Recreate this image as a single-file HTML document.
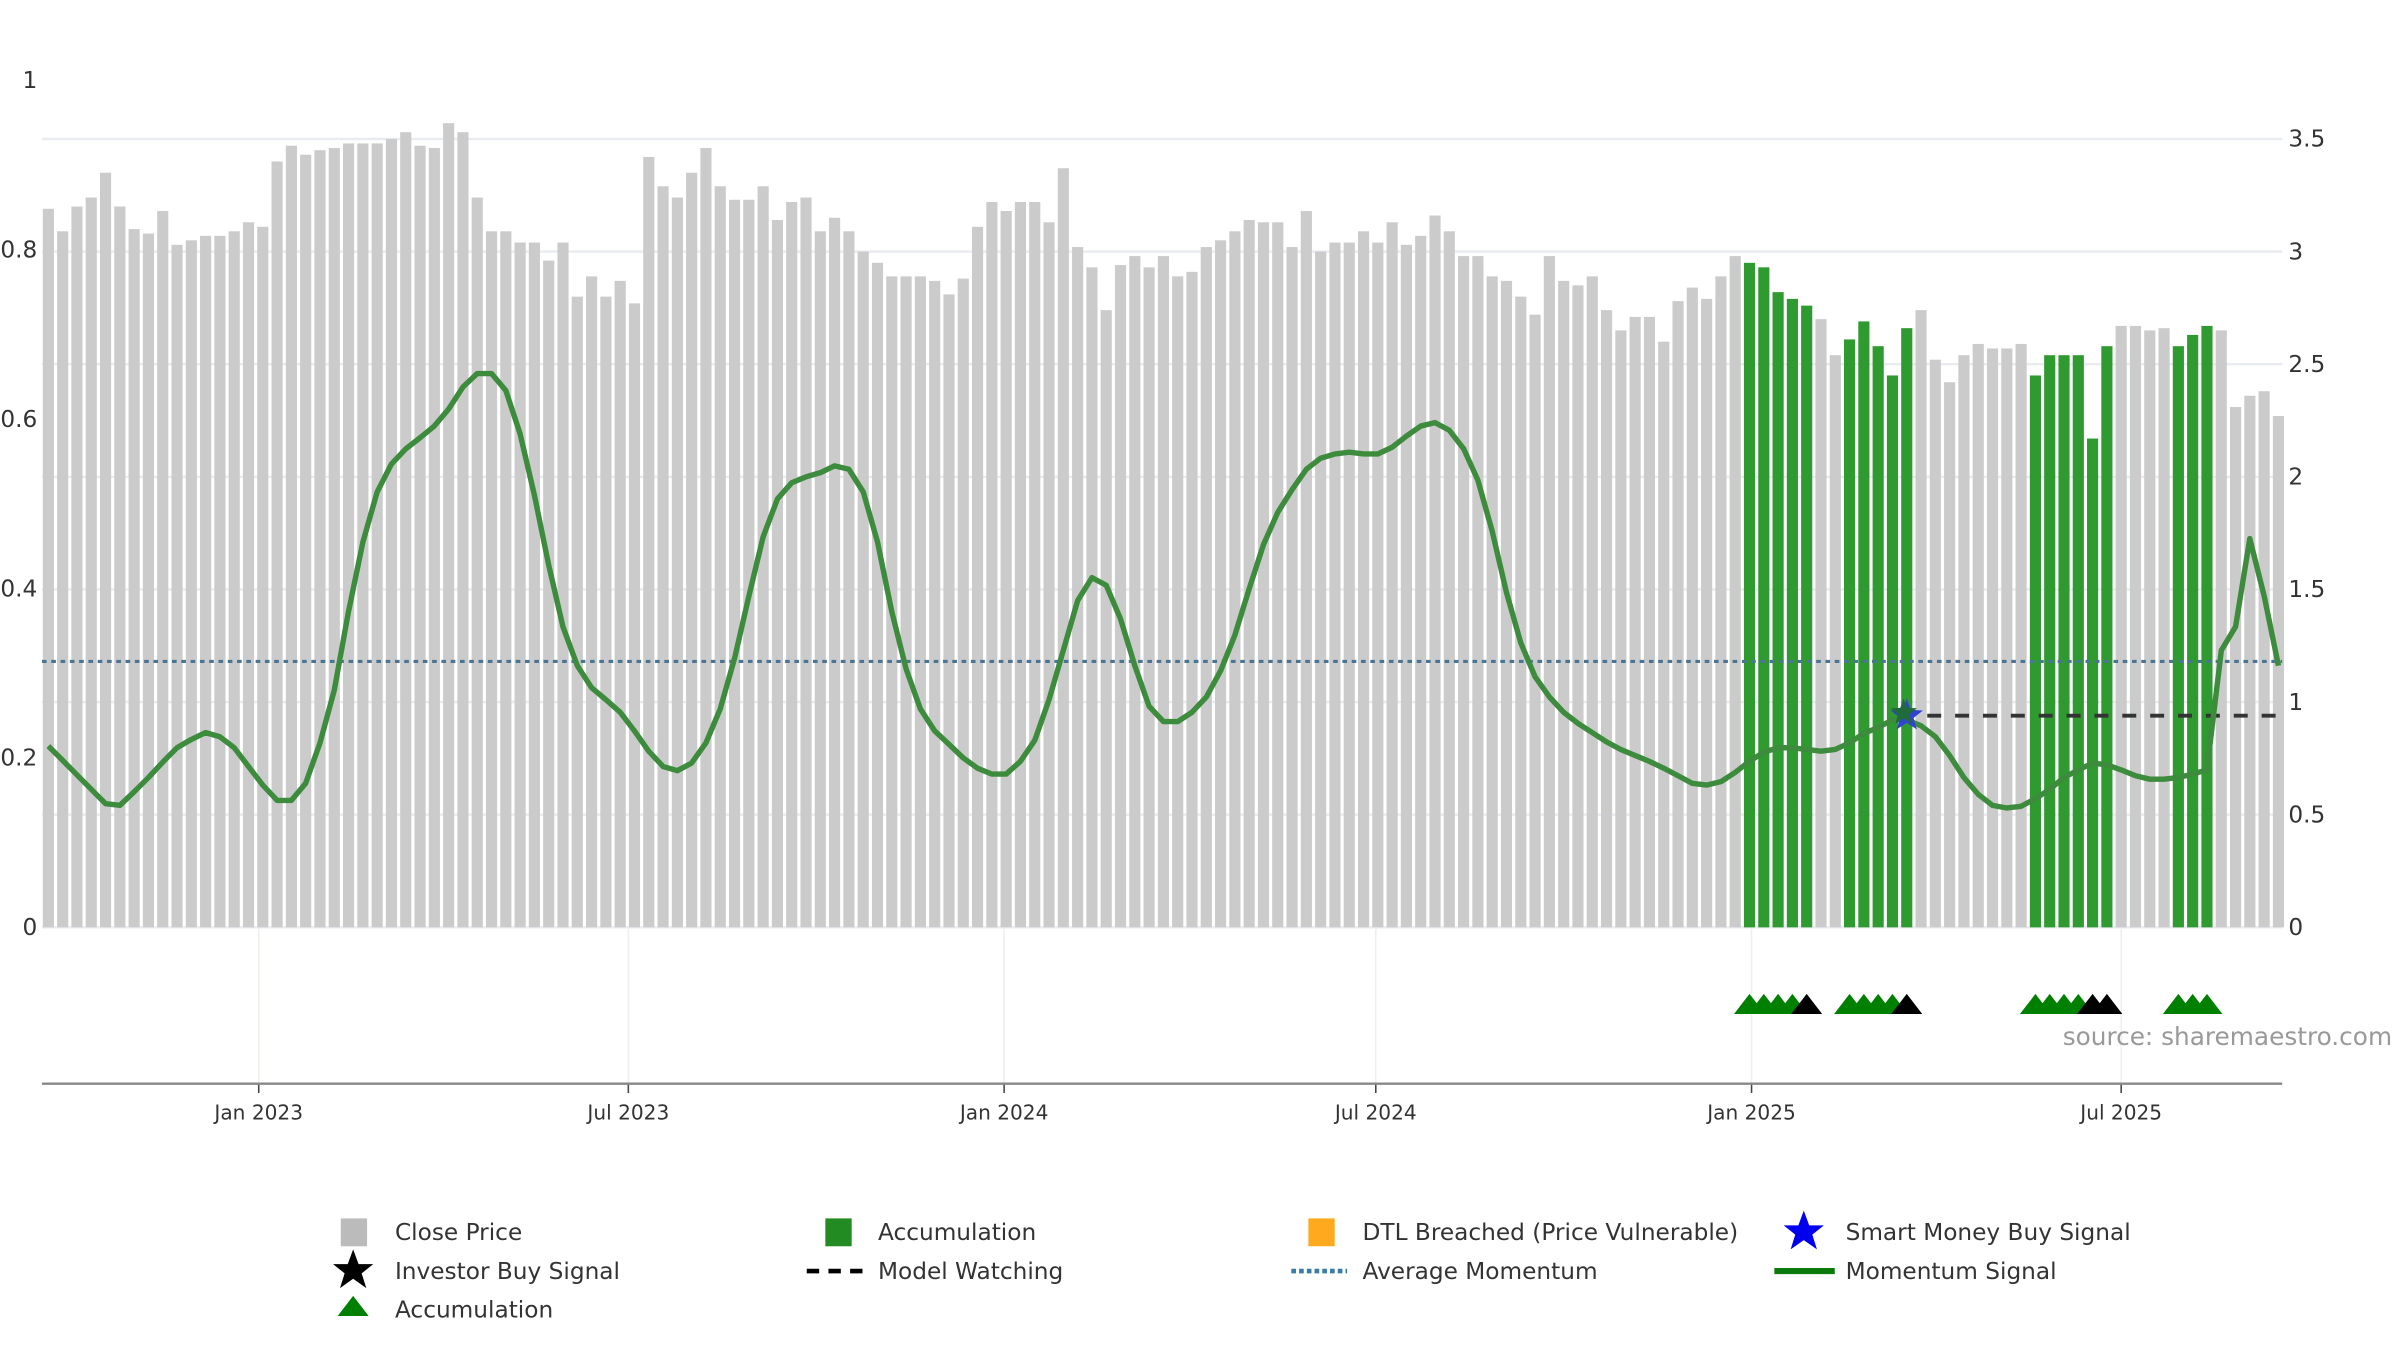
<!DOCTYPE html>
<html><head><meta charset="utf-8"><style>
html,body{margin:0;padding:0;background:#fff;}
svg{display:block;font-family:"DejaVu Sans","Liberation Sans",sans-serif;}
</style></head><body>
<svg id="chart" width="2400" height="1350" viewBox="0 0 1550 872" xmlns="http://www.w3.org/2000/svg">
<g id="grid"></g>
<g id="bars"></g>
<g id="lines"></g>
<g id="markers"></g>
<g id="axes"></g>
<text x="1545" y="675" text-anchor="end" font-size="16" fill="#999">source: sharemaestro.com</text>
<g id="legend" font-size="15" fill="#333">
  <rect x="220" y="787" width="17" height="18" fill="#bbb"/>
  <text x="255" y="801">Close Price</text>
  <rect x="533" y="787" width="17" height="18" fill="#228B22"/>
  <text x="567" y="801">Accumulation</text>
  <rect x="845" y="787" width="17" height="18" fill="#FFA91F"/>
  <text x="880" y="801">DTL Breached (Price Vulnerable)</text>
  <polygon points="1165,782 1168.5,791.5 1178,791.5 1170.5,797.5 1173.5,807 1165,801 1156.5,807 1159.5,797.5 1152,791.5 1161.5,791.5" fill="#0000ee"/>
  <text x="1192" y="801">Smart Money Buy Signal</text>
  <polygon points="228,807 231.5,816.5 241,816.5 233.5,822.5 236.5,832 228,826 219.5,832 222.5,822.5 215,816.5 224.5,816.5" fill="#000"/>
  <text x="255" y="826">Investor Buy Signal</text>
  <line x1="521" y1="821" x2="557" y2="821" stroke="#000" stroke-width="3" stroke-dasharray="8,6"/>
  <text x="567" y="826">Model Watching</text>
  <line x1="834" y1="821" x2="870" y2="821" stroke="#3a7ca8" stroke-width="3" stroke-dasharray="3,2"/>
  <text x="880" y="826">Average Momentum</text>
  <line x1="1146" y1="821" x2="1185" y2="821" stroke="#0a7a0a" stroke-width="4"/>
  <text x="1192" y="826">Momentum Signal</text>
  <polygon points="228,837 238,850 218,850" fill="#008000"/>
  <text x="255" y="851">Accumulation</text>
</g>
</svg>
<script>
const prices = [3.19,3.09,3.20,3.24,3.35,3.20,3.10,3.08,3.18,3.03,3.05,3.07,3.07,3.09,3.13,3.11,3.40,3.47,3.43,3.45,3.46,3.48,3.48,3.48,3.50,3.53,3.47,3.46,3.57,3.53,3.24,3.09,3.09,3.04,3.04,2.96,3.04,2.80,2.89,2.80,2.87,2.77,3.42,3.29,3.24,3.35,3.46,3.29,3.23,3.23,3.29,3.14,3.22,3.24,3.09,3.15,3.09,3.00,2.95,2.89,2.89,2.89,2.87,2.81,2.88,3.11,3.22,3.18,3.22,3.22,3.13,3.37,3.02,2.93,2.74,2.94,2.98,2.93,2.98,2.89,2.91,3.02,3.05,3.09,3.14,3.13,3.13,3.02,3.18,3.00,3.04,3.04,3.09,3.04,3.13,3.03,3.07,3.16,3.09,2.98,2.98,2.89,2.87,2.80,2.72,2.98,2.87,2.85,2.89,2.74,2.65,2.71,2.71,2.60,2.78,2.84,2.79,2.89,2.98,2.95,2.93,2.82,2.79,2.76,2.70,2.54,2.61,2.69,2.58,2.45,2.66,2.74,2.52,2.42,2.54,2.59,2.57,2.57,2.59,2.45,2.54,2.54,2.54,2.17,2.58,2.67,2.67,2.65,2.66,2.58,2.63,2.67,2.65,2.31,2.36,2.38,2.27];
const momentum = [0.214,0.197,0.18,0.163,0.146,0.144,0.16,0.177,0.195,0.212,0.222,0.23,0.225,0.212,0.19,0.168,0.15,0.15,0.17,0.218,0.28,0.373,0.455,0.514,0.547,0.565,0.578,0.592,0.612,0.638,0.654,0.654,0.634,0.583,0.51,0.428,0.355,0.309,0.283,0.269,0.254,0.232,0.208,0.19,0.185,0.194,0.218,0.258,0.318,0.391,0.461,0.506,0.525,0.532,0.537,0.545,0.541,0.514,0.455,0.373,0.305,0.258,0.232,0.216,0.2,0.188,0.181,0.181,0.196,0.221,0.269,0.327,0.386,0.413,0.404,0.364,0.309,0.261,0.243,0.243,0.254,0.272,0.303,0.345,0.4,0.452,0.49,0.517,0.541,0.554,0.559,0.561,0.559,0.559,0.567,0.58,0.592,0.596,0.587,0.565,0.528,0.468,0.395,0.336,0.296,0.272,0.254,0.241,0.23,0.219,0.21,0.203,0.196,0.188,0.179,0.17,0.168,0.172,0.183,0.196,0.207,0.212,0.212,0.21,0.208,0.21,0.218,0.229,0.236,0.245,0.245,0.238,0.225,0.203,0.177,0.157,0.144,0.141,0.143,0.152,0.163,0.177,0.186,0.194,0.192,0.186,0.179,0.175,0.175,0.177,0.181,0.186,0.327,0.355,0.459,0.391,0.309];
const accumulationBars = [119,120,121,122,123,126,127,128,129,130,139,140,141,142,143,144,149,150,151];
const accumTriangles = [119,120,121,122,126,127,128,129,139,140,141,142,149,150,151];
const investorTriangles = [123,130,143,144];
const smartMoneyIndex = [130];
const avgMomentum = [0.314];
const modelWatching = [0.25];
const modelWatchStart = [131];
const leftTicks = [0,0.2,0.4,0.6,0.8,1];
const leftTickLabels = ["0","0.2","0.4","0.6","0.8","1"];
const rightTicks = [0,0.5,1,1.5,2,2.5,3,3.5];
const rightTickLabels = ["0","0.5","1","1.5","2","2.5","3","3.5"];
const xTickDates = ["2023-01-01","2023-07-01","2024-01-01","2024-07-01","2025-01-01","2025-07-01"];
const xTickLabels = ["Jan 2023","Jul 2023","Jan 2024","Jul 2024","Jan 2025","Jul 2025"];
const startDate = ["2022-09-20"];

const NS="http://www.w3.org/2000/svg";
const DAY=86400000;
const ref=Date.UTC(2023,0,1);
const start=Date.parse(startDate[0]);
function xDate(t){return 167+(t-ref)/DAY*1.3191;}
function xBar(i){return xDate(start+i*7*DAY);}
function yL(v){return 599-v*547;}
function yR(v){return 599-v*145.5;}
function mk(tag,attrs,parent){const e=document.createElementNS(NS,tag);for(const k in attrs)e.setAttribute(k,attrs[k]);parent.appendChild(e);return e;}
const grid=document.getElementById('grid'),bars=document.getElementById('bars'),lines=document.getElementById('lines'),markers=document.getElementById('markers'),axes=document.getElementById('axes');

rightTicks.forEach((v,k)=>{
  const g=mk('line',{x1:27,x2:1474,y1:yR(v),y2:yR(v),stroke:'#e8ebf0','stroke-width':1.5},grid);
  
  
  const t=mk('text',{x:1478,y:yR(v)+5,'font-size':15,fill:'#333'},axes);t.textContent=rightTickLabels[k];
  
  
});
leftTicks.forEach((v,k)=>{
  const t=mk('text',{x:24,y:yL(v)+5,'font-size':15,fill:'#333','text-anchor':'end'},axes);t.textContent=leftTickLabels[k];
  
  
});
xTickDates.forEach((d,k)=>{
  const x=xDate(Date.parse(d));
  const g=mk('line',{x1:x,x2:x,y1:600,y2:700,stroke:'#eceff3','stroke-width':1},grid);
  
  
  const tk=mk('line',{x1:x,x2:x,y1:700,y2:706,stroke:'#444','stroke-width':1},axes);
  
  
  const t=mk('text',{x:x,y:723,'font-size':13,fill:'#333','text-anchor':'middle'},axes);t.textContent=xTickLabels[k];
  
  
});
const axl=mk('line',{x1:27,x2:1474,y1:700,y2:700,stroke:'#888','stroke-width':1.5},axes);



prices.forEach((v,i)=>{
  const acc=accumulationBars.includes(i);
  const x=xBar(i);
  const r=mk('rect',{x:x-3.6,y:yR(v),width:7.2,height:599-yR(v),fill:acc?'#2f9a2f':'#cbcbcb'},bars);
  
  
});

const avg=mk('line',{x1:27,x2:1474,y1:yL(avgMomentum[0]),y2:yL(avgMomentum[0]),stroke:'#4a7594','stroke-width':2,'stroke-dasharray':'3,3'},lines);


const mw=mk('line',{x1:xBar(modelWatchStart[0])+4,x2:1472,y1:yL(modelWatching[0]),y2:yL(modelWatching[0]),stroke:'#333','stroke-width':2.5,'stroke-dasharray':'9,9'},lines);


const pts=momentum.map((v,i)=>xBar(i).toFixed(1)+','+yL(v).toFixed(1)).join(' ');
const ml=mk('polyline',{points:pts,fill:'none',stroke:'#3d8b3d','stroke-width':3.5,'stroke-linejoin':'round'},lines);



function star(cx,cy,r,fill,parent){
  const p=[];for(let k=0;k<10;k++){const a=-Math.PI/2+k*Math.PI/5;const rr=k%2?r*0.42:r;p.push((cx+rr*Math.cos(a)).toFixed(1)+','+(cy+rr*Math.sin(a)).toFixed(1));}
  return mk('polygon',{points:p.join(' '),fill:fill},parent);
}
smartMoneyIndex.forEach(i=>{
  const s=star(xBar(i),yL(modelWatching[0]),11,'#3344cc',markers);
  
  
  const s2=star(xBar(i)-2,yL(modelWatching[0])-2,9,'#1f6b3a',markers);
  
  
});
function tri(i,fill,name){
  const x=xBar(i);
  const t=mk('polygon',{points:`${x},642 ${x+10},655 ${x-10},655`,fill:fill},markers);
  
  
}
accumTriangles.forEach(i=>tri(i,'#008000','accumulation-triangle'));
investorTriangles.forEach(i=>tri(i,'#000','investor-buy-triangle'));
</script>
</body></html>
